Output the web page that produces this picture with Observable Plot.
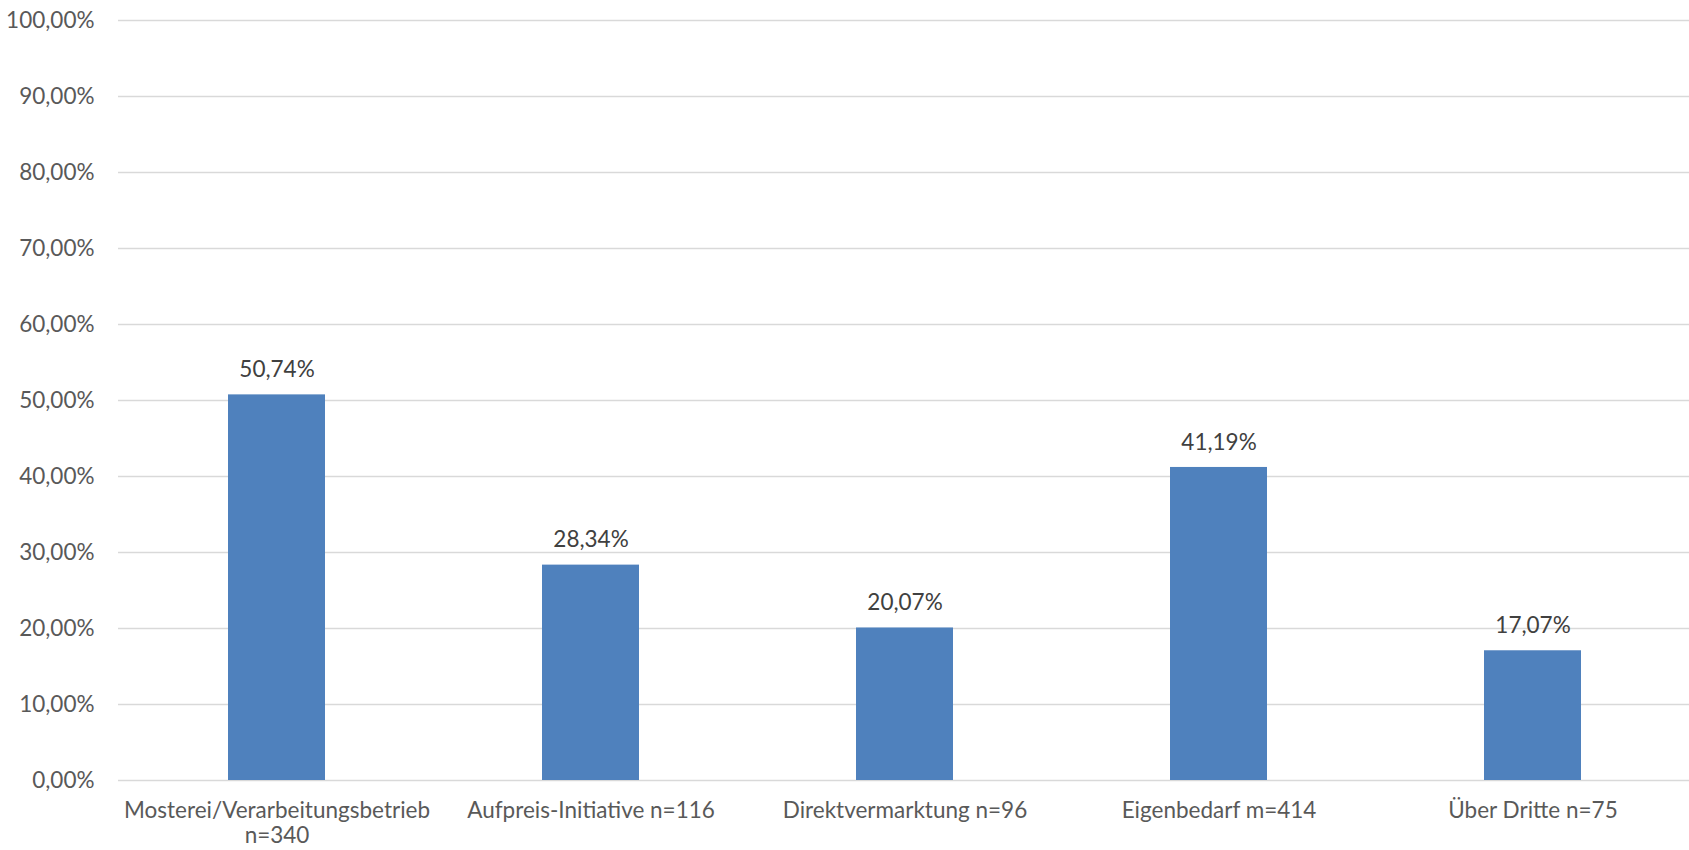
<!DOCTYPE html>
<html>
<head>
<meta charset="utf-8">
<script src="https://cdn.jsdelivr.net/npm/d3@7"></script>
<script src="https://cdn.jsdelivr.net/npm/@observablehq/plot@0.6"></script>
<style>
  html, body { margin: 0; padding: 0; background: #fff; }
  #chart { width: 1689px; height: 850px; overflow: hidden; }
</style>
</head>
<body>
<div id="chart"></div>
<script>
const categories = [
  "Mosterei/Verarbeitungsbetrieb\nn=340",
  "Aufpreis-Initiative n=116",
  "Direktvermarktung n=96",
  "Eigenbedarf m=414",
  "Über Dritte n=75"
];
const values = [50.74, 28.34, 20.07, 41.19, 17.07];
const yTicks = [0, 10, 20, 30, 40, 50, 60, 70, 80, 90, 100];

const data = categories.map((c, i) => ({category: c, value: values[i]}));
const fmt = v => v.toFixed(2).replace(".", ",") + "%";

const chart = Plot.plot({
  width: 1689,
  height: 850,
  marginTop: 20,
  marginBottom: 70,
  marginLeft: 118,
  marginRight: -3,
  style: {fontFamily: "Lato, sans-serif", fontSize: "22.5px", background: "#fff"},
  x: {domain: categories, paddingInner: 0.69, paddingOuter: 0.345, label: null},
  y: {domain: [0, 100], label: null},
  marks: [
    Plot.gridY(yTicks, {stroke: "#d9d9d9", strokeOpacity: 1, strokeWidth: 1.3}),
    Plot.barY(data, {x: "category", y: "value", fill: "#4f81bd"}),
    Plot.text(data, {x: "category", y: "value", text: d => fmt(d.value), dy: -25, fill: "#404040", fontSize: 22.5}),
    Plot.axisY({ticks: yTicks, tickFormat: fmt, tickSize: 0, tickPadding: 24, fill: "#595959", fontSize: 22.5}),
    Plot.axisX({tickSize: 0, tickPadding: 20, fill: "#595959", fontSize: 22.5, lineHeight: 1.1})
  ]
});
document.getElementById("chart").appendChild(chart);
</script>
</body>
</html>
